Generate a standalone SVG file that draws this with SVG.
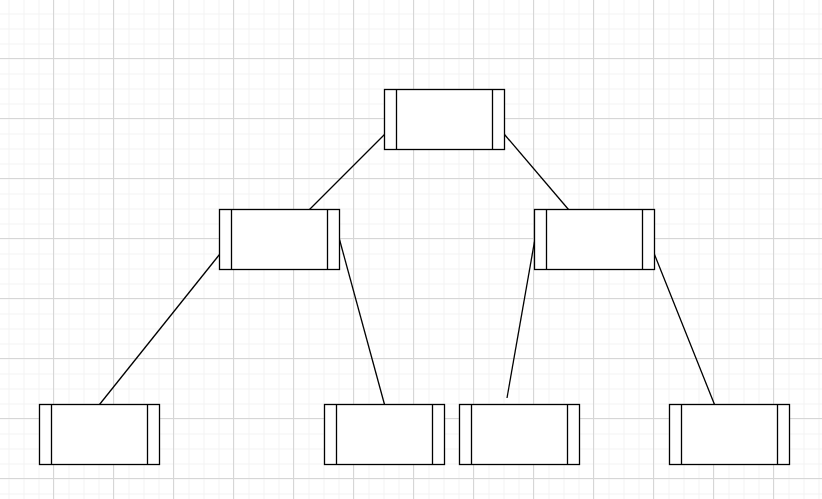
<svg xmlns="http://www.w3.org/2000/svg" width="822" height="499" viewBox="0 0 822 499">
<defs>
<pattern id="minor" x="8.5" y="13.5" width="15" height="15" patternUnits="userSpaceOnUse">
<path d="M0 0 H15 M0 0 V15" fill="none" stroke="#f2f2f2" stroke-width="1" transform="translate(0.5 0.5)"/>
</pattern>
<pattern id="major" x="53" y="58" width="60" height="60" patternUnits="userSpaceOnUse">
<path d="M0 0.5 H60 M0.5 0 V60" fill="none" stroke="#d6d6d6" stroke-width="1"/>
</pattern>
<style>
.box{fill:#ffffff;stroke:#000000;stroke-width:1.3}
.edge{fill:none;stroke:#000000;stroke-width:1.3}
</style>
</defs>
<rect width="822" height="499" fill="#ffffff"/>
<rect width="822" height="499" fill="url(#minor)"/>
<rect width="822" height="499" fill="url(#major)"/>
<g id="connectors">
<path class="edge" d="M384.5 134.5 L309.5 209.5"/>
<path class="edge" d="M504.5 134.5 L568.5 209.5"/>
<path class="edge" d="M219.5 254.5 L99.5 404.5"/>
<path class="edge" d="M339.5 239.5 L384.5 404.5"/>
<path class="edge" d="M534.5 241.5 L507 398"/>
<path class="edge" d="M654.5 254.5 L714.5 404.5"/>
</g>
<g id="n-root">
<rect class="box" x="384.5" y="89.5" width="120" height="60"/>
<path class="edge" d="M396.5 89.5 V149.5 M492.5 89.5 V149.5"/>
</g>
<g id="n-left">
<rect class="box" x="219.5" y="209.5" width="120" height="60"/>
<path class="edge" d="M231.5 209.5 V269.5 M327.5 209.5 V269.5"/>
</g>
<g id="n-right">
<rect class="box" x="534.5" y="209.5" width="120" height="60"/>
<path class="edge" d="M546.5 209.5 V269.5 M642.5 209.5 V269.5"/>
</g>
<g id="n-ll">
<rect class="box" x="39.5" y="404.5" width="120" height="60"/>
<path class="edge" d="M51.5 404.5 V464.5 M147.5 404.5 V464.5"/>
</g>
<g id="n-lr">
<rect class="box" x="324.5" y="404.5" width="120" height="60"/>
<path class="edge" d="M336.5 404.5 V464.5 M432.5 404.5 V464.5"/>
</g>
<g id="n-rl">
<rect class="box" x="459.5" y="404.5" width="120" height="60"/>
<path class="edge" d="M471.5 404.5 V464.5 M567.5 404.5 V464.5"/>
</g>
<g id="n-rr">
<rect class="box" x="669.5" y="404.5" width="120" height="60"/>
<path class="edge" d="M681.5 404.5 V464.5 M777.5 404.5 V464.5"/>
</g>
</svg>
